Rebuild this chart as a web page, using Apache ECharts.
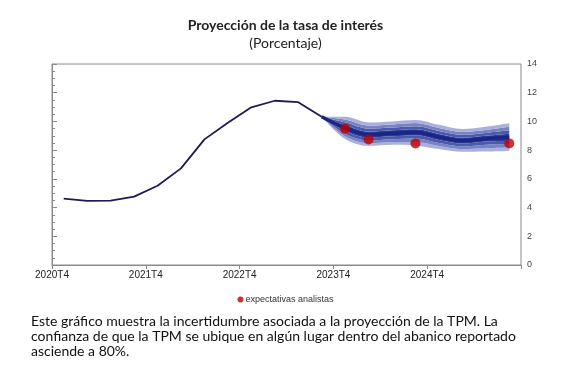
<!DOCTYPE html>
<html>
<head>
<meta charset="utf-8">
<script src="https://cdn.jsdelivr.net/npm/echarts@6/dist/echarts.min.js"></script>
<style>
html,body{margin:0;padding:0;background:#fff;}
#chart{width:571px;height:373px;}
</style>
</head>
<body>
<div id="chart"></div>
<script>
// Quarters (category positions on the x axis)
const quarters = ['2021T1','2021T2','2021T3','2021T4','2022T1','2022T2','2022T3','2022T4',
                  '2023T1','2023T2','2023T3','2023T4','2024T1','2024T2','2024T3','2024T4',
                  '2025T1','2025T2','2025T3','2025T4'];
const xTickLabels = ['2020T4','2021T4','2022T4','2023T4','2024T4',''];

// Historical TPM (2021T1 .. 2023T4)
const histValues = [4.62, 4.46, 4.48, 4.76, 5.52, 6.73, 8.75, 9.91, 10.98, 11.44, 11.34, 10.33];

// Fan chart (2023T4 .. 2025T4): central path and band edges (outer 4 -> inner 1)
const fanQuarters = ['2023T4','2024T1','2024T2','2024T3','2024T4','2025T1','2025T2','2025T3','2025T4'];
const fanCenter = [10.33, 9.55, 9.08, 9.17, 9.25, 8.92, 8.66, 8.80, 8.90];
const fanHi4    = [10.33, 10.32, 9.93, 10.00, 10.10, 9.76, 9.47, 9.63, 9.87];
const fanHi3    = [10.33, 10.13, 9.72, 9.79, 9.89, 9.55, 9.27, 9.41, 9.63];
const fanHi2    = [10.33, 9.94, 9.50, 9.58, 9.67, 9.34, 9.07, 9.20, 9.38];
const fanHi1    = [10.33, 9.75, 9.29, 9.38, 9.46, 9.13, 8.86, 9.00, 9.14];
const fanLo1    = [10.33, 9.35, 8.88, 8.96, 9.04, 8.71, 8.46, 8.60, 8.66];
const fanLo2    = [10.33, 9.15, 8.68, 8.76, 8.81, 8.50, 8.26, 8.37, 8.42];
const fanLo3    = [10.33, 8.96, 8.48, 8.56, 8.57, 8.29, 8.07, 8.13, 8.18];
const fanLo4    = [10.33, 8.78, 8.30, 8.38, 8.33, 8.08, 7.88, 7.90, 7.94];

// Analysts' expectations
const expQuarters = ['2024T1','2024T2','2024T4','2025T4'];
const expValues = [9.49, 8.75, 8.47, 8.47];

// Build full-length arrays aligned to the quarters category axis
function onQuarters(qs, vals) {
  const out = quarters.map(() => null);
  qs.forEach((q, i) => { out[quarters.indexOf(q)] = vals[i]; });
  return out;
}
const histData = quarters.map((q, i) => (i < histValues.length ? histValues[i] : null));
function fanDiff(a, b) {
  return onQuarters(fanQuarters, a.map((v, i) => +(v - b[i]).toFixed(3)));
}

const c4 = '#a9b0db';
const c3 = '#7883c3';
const c2 = '#4c5aab';
const c1 = '#2c3b97';
const SM = 0.35;

function band(name, data, color) {
  return {
    name: name, type: 'line', stack: 'fan', data: data, smooth: SM,
    symbol: 'none', lineStyle: { width: 0, opacity: 0 },
    areaStyle: { color: color, opacity: 1 }, z: 2, silent: true
  };
}

const chart = echarts.init(document.getElementById('chart'));
chart.setOption({
  animation: false,
  title: {
    text: 'Proyección de la tasa de interés',
    subtext: '(Porcentaje)',
    left: 'center', top: 13, itemGap: 4,
    textStyle: { fontFamily: 'Lato', fontSize: 14, fontWeight: 'bold', color: '#222' },
    subtextStyle: { fontFamily: 'Lato', fontSize: 14, color: '#222' }
  },
  legend: {
    data: [{ name: 'expectativas analistas', icon: 'circle' }],
    top: 290, left: 'center', itemWidth: 6, itemHeight: 6, itemGap: 4,
    textStyle: { fontFamily: 'Liberation Sans', fontSize: 9, color: '#333', padding: [0, 0, 0, -3] }
  },
  grid: { left: 52, right: 50, top: 64, bottom: 108, show: true, borderColor: '#8a8a8a', borderWidth: 1 },
  xAxis: [
    { type: 'category', data: quarters, boundaryGap: true, show: false },
    {
      type: 'value', min: 0, max: 20, interval: 4, position: 'bottom',
      splitLine: { show: false },
      axisLine: { lineStyle: { color: '#8a8a8a' } },
      axisTick: { show: true, length: 4, lineStyle: { color: '#8a8a8a' } },
      axisLabel: {
        fontFamily: 'Liberation Sans', fontSize: 10, color: '#222', margin: 5,
        formatter: v => xTickLabels[Math.round(v / 4)] || ''
      }
    }
  ],
  yAxis: {
    type: 'value', position: 'right', min: 0, max: 14, interval: 2,
    splitLine: { show: false },
    axisLine: { show: true, lineStyle: { color: '#8a8a8a' } },
    axisTick: { show: true, length: 5, lineStyle: { color: '#8a8a8a' } },
    minorTick: { show: true, splitNumber: 4, length: 3, lineStyle: { color: '#8a8a8a' } },
    axisLabel: { fontFamily: 'Liberation Sans', fontSize: 9, color: '#444', margin: 6 }
  },
  series: [
    { name: 'base', type: 'line', stack: 'fan', data: onQuarters(fanQuarters, fanLo4),
      smooth: SM, symbol: 'none', lineStyle: { width: 0, opacity: 0 }, silent: true, z: 2 },
    band('b1', fanDiff(fanLo3, fanLo4), c4),
    band('b2', fanDiff(fanLo2, fanLo3), c3),
    band('b3', fanDiff(fanLo1, fanLo2), c2),
    band('b4', fanDiff(fanHi1, fanLo1), c1),
    band('b5', fanDiff(fanHi2, fanHi1), c2),
    band('b6', fanDiff(fanHi3, fanHi2), c3),
    band('b7', fanDiff(fanHi4, fanHi3), c4),
    { name: 'centro', type: 'line', data: onQuarters(fanQuarters, fanCenter), smooth: SM,
      symbol: 'none', lineStyle: { color: '#1a2585', width: 3.5 }, z: 3, silent: true },
    { name: 'TPM', type: 'line', data: histData, symbol: 'none',
      lineStyle: { color: '#1d1b50', width: 1.8 }, z: 4, silent: true },
    { name: 'expectativas analistas', type: 'scatter',
      data: onQuarters(expQuarters, expValues),
      symbol: 'circle', symbolSize: 10, itemStyle: { color: '#c00000' }, z: 5 }
  ],
  graphic: [
    { type: 'text', left: 31, top: 314, style: { text: 'Este gráfico muestra la incertidumbre asociada a la proyección de la TPM. La', font: '14px Lato', fill: '#111' } },
    { type: 'text', left: 31, top: 329, style: { text: 'confianza de que la TPM se ubique en algún lugar dentro del abanico reportado', font: '14px Lato', fill: '#111' } },
    { type: 'text', left: 31, top: 344, style: { text: 'asciende a 80%.', font: '14px Lato', fill: '#111' } }
  ]
});
</script>
</body>
</html>
